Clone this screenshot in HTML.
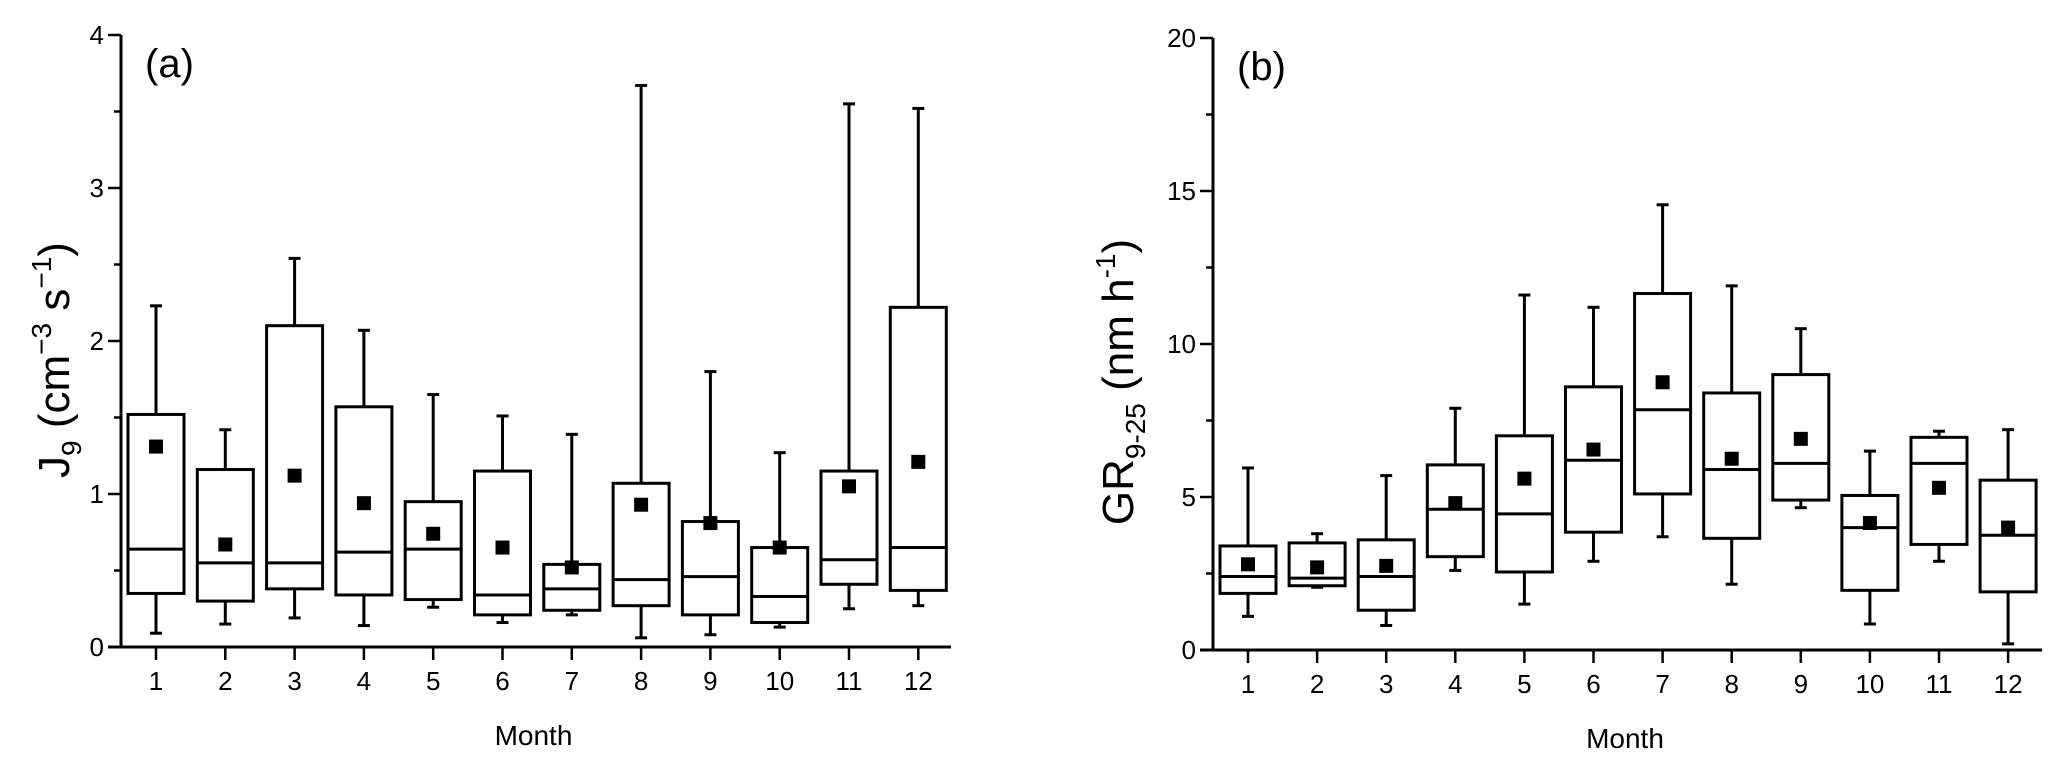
<!DOCTYPE html>
<html><head><meta charset="utf-8"><style>
html,body{margin:0;padding:0;background:#fff;}
svg{display:block;font-family:"Liberation Sans",Arial,sans-serif;}
</style></head><body>
<svg id="chart" width="2067" height="765" viewBox="0 0 2067 765"></svg>
<script>
const months=[1,2,3,4,5,6,7,8,9,10,11,12];
const aMax=[2.23,1.42,2.54,2.07,1.65,1.51,1.39,3.67,1.80,1.27,3.55,3.52];
const aQ3=[1.52,1.16,2.10,1.57,0.95,1.15,0.54,1.07,0.82,0.65,1.15,2.22];
const aMed=[0.64,0.55,0.55,0.62,0.64,0.34,0.38,0.44,0.46,0.33,0.57,0.65];
const aQ1=[0.35,0.30,0.38,0.34,0.31,0.21,0.24,0.27,0.21,0.16,0.41,0.37];
const aMin=[0.09,0.15,0.19,0.14,0.26,0.16,0.21,0.06,0.08,0.13,0.25,0.27];
const aMean=[1.31,0.67,1.12,0.94,0.74,0.65,0.52,0.93,0.81,0.65,1.05,1.21];
const aTicks=[0,1,2,3,4];
const bMax=[5.95,3.8,5.7,7.9,11.6,11.2,14.55,11.9,10.5,6.5,7.15,7.2];
const bQ3=[3.4,3.5,3.6,6.05,7.0,8.6,11.65,8.4,9.0,5.05,6.95,5.55];
const bMed=[2.4,2.35,2.4,4.6,4.45,6.2,7.85,5.9,6.1,4.0,6.1,3.75];
const bQ1=[1.85,2.1,1.3,3.05,2.55,3.85,5.1,3.65,4.9,1.95,3.45,1.9];
const bMin=[1.1,2.05,0.8,2.6,1.5,2.9,3.7,2.15,4.65,0.85,2.9,0.2];
const bMean=[2.8,2.7,2.75,4.8,5.6,6.55,8.75,6.25,6.9,4.15,5.3,4.0];
const bTicks=[0,5,10,15,20];

const NS="http://www.w3.org/2000/svg";
const svg=document.getElementById('chart');
function mk(tag,attrs,parent){const e=document.createElementNS(NS,tag);for(const k in attrs)e.setAttribute(k,attrs[k]);(parent||svg).appendChild(e);return e;}

function panel(cfg){
  const g=mk('g',{});
  
  
  const y=v=>cfg.y0-(v-0)/cfg.ymax*(cfg.y0-cfg.yTop);
  const x=m=>cfg.x1+(m-1)*cfg.dx;
  const sw=3;
  const ya=mk('line',{x1:cfg.ax,y1:cfg.yTop,x2:cfg.ax,y2:cfg.y0,stroke:'#000','stroke-width':sw},g);
  
  
  const xa=mk('line',{x1:cfg.xa0,y1:cfg.y0,x2:cfg.xa1,y2:cfg.y0,stroke:'#000','stroke-width':sw},g);
  
  
  const step=cfg.ticks[1]-cfg.ticks[0];
  cfg.ticks.forEach((t,i)=>{
    mk('line',{x1:cfg.ax-13,y1:y(t),x2:cfg.ax,y2:y(t),stroke:'#000','stroke-width':2.5},g);
    if(i<cfg.ticks.length-1)mk('line',{x1:cfg.ax-7,y1:y(t+step/2),x2:cfg.ax,y2:y(t+step/2),stroke:'#000','stroke-width':2.5},g);
    const tx=mk('text',{x:cfg.ax-17,y:y(t)+9,'text-anchor':'end','font-size':26},g);
    tx.textContent=t;
    
    
  });
  months.forEach(m=>{
    mk('line',{x1:x(m),y1:cfg.y0,x2:x(m),y2:cfg.y0+13,stroke:'#000','stroke-width':2.5},g);
    const tx=mk('text',{x:x(m),y:cfg.y0+43,'text-anchor':'middle','font-size':26},g);
    tx.textContent=m;
    
    
  });
  const bw=56,cap=12;
  months.forEach((m,i)=>{
    const bg=mk('g',{},g);
    
    
    const cx=x(m);
    mk('line',{x1:cx,y1:y(cfg.max[i]),x2:cx,y2:y(cfg.q3[i]),stroke:'#000','stroke-width':sw},bg);
    mk('line',{x1:cx,y1:y(cfg.min[i]),x2:cx,y2:y(cfg.q1[i]),stroke:'#000','stroke-width':sw},bg);
    mk('line',{x1:cx-cap/2,y1:y(cfg.max[i]),x2:cx+cap/2,y2:y(cfg.max[i]),stroke:'#000','stroke-width':sw},bg);
    mk('line',{x1:cx-cap/2,y1:y(cfg.min[i]),x2:cx+cap/2,y2:y(cfg.min[i]),stroke:'#000','stroke-width':sw},bg);
    mk('rect',{x:cx-bw/2,y:y(cfg.q3[i]),width:bw,height:y(cfg.q1[i])-y(cfg.q3[i]),fill:'none',stroke:'#000','stroke-width':sw},bg);
    mk('line',{x1:cx-bw/2,y1:y(cfg.med[i]),x2:cx+bw/2,y2:y(cfg.med[i]),stroke:'#000','stroke-width':sw},bg);
    const mr=mk('rect',{x:cx-7,y:y(cfg.mean[i])-7,width:14,height:14,fill:'#000'},bg);
    
    
  });
  const pl=mk('text',{x:cfg.ax+24,y:cfg.yTop+42,'font-size':40},g);
  pl.textContent=cfg.label;
  
  
  const xt=mk('text',{x:(cfg.xa0+cfg.xa1)/2+4,y:cfg.y0+98,'text-anchor':'middle','font-size':28},g);
  xt.textContent='Month';
  
  
  const yt=mk('text',{transform:`translate(${cfg.ytx},${cfg.yty}) rotate(-90)`,'text-anchor':'middle','font-size':44},g);
  yt.innerHTML=cfg.ytitle;
  
  
}
panel({id:'panel-a',label:'(a)',ax:121,xa0:108,xa1:951,y0:647,yTop:35,ymax:4,x1:156,dx:69.3,ticks:aTicks,
  max:aMax,q3:aQ3,med:aMed,q1:aQ1,min:aMin,mean:aMean,ytx:69,yty:360,
  ytitle:'J<tspan font-size="28" dy="12">9</tspan><tspan dy="-12"> (cm</tspan><tspan font-size="28" dy="-18">−3</tspan><tspan dy="18"> s</tspan><tspan font-size="28" dy="-18">−1</tspan><tspan dy="18">)</tspan>'});
panel({id:'panel-b',label:'(b)',ax:1213,xa0:1200,xa1:2042,y0:650,yTop:38,ymax:20,x1:1248,dx:69.1,ticks:bTicks,
  max:bMax,q3:bQ3,med:bMed,q1:bQ1,min:bMin,mean:bMean,ytx:1133,yty:382,
  ytitle:'GR<tspan font-size="28" dy="12">9-25</tspan><tspan dy="-12"> (nm h</tspan><tspan font-size="28" dy="-18">-1</tspan><tspan dy="18">)</tspan>'});
</script>
</body></html>
